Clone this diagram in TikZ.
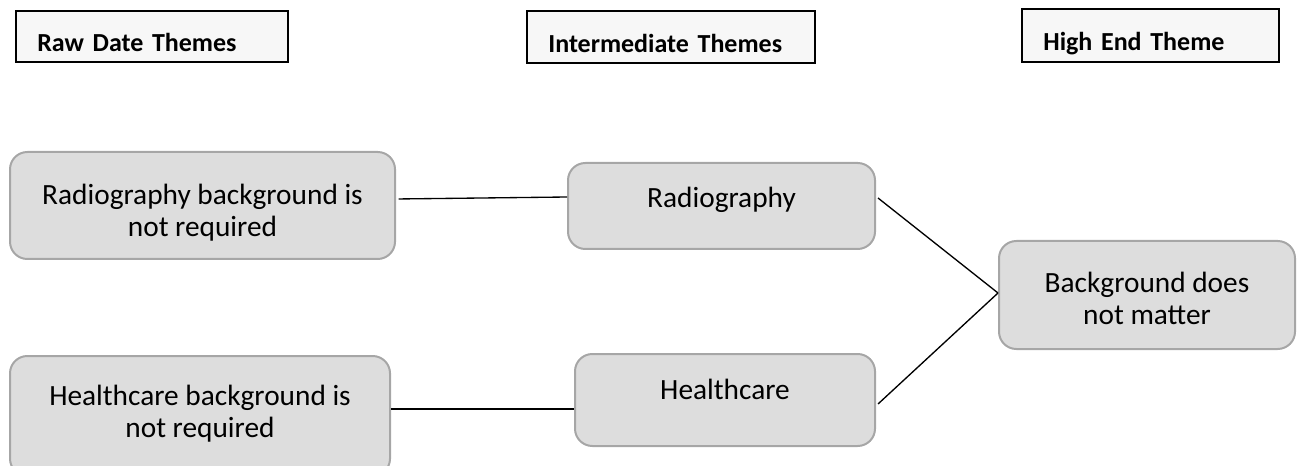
\documentclass[tikz,border=0pt]{standalone}
\usepackage{fontspec}
\setmainfont{Carlito}
\usepackage{tikz}
\definecolor{boxfill}{RGB}{221,221,221}
\definecolor{boxline}{RGB}{166,166,166}
\definecolor{headfill}{RGB}{247,247,247}
\tikzstyle{header}=[draw=black, line width=1.2pt, fill=headfill, inner xsep=16pt, inner ysep=0pt, align=left,
	text height=23pt, text depth=0pt, font=\fontsize{19.5}{23}\selectfont\bfseries]
\tikzstyle{theme}=[draw=boxline, line width=1.5pt, fill=boxfill, rounded corners=13pt, inner sep=0pt, align=center,
	font=\fontsize{22}{24}\selectfont]
\tikzstyle{link}=[draw=black, line width=1pt]

\begin{document}
\begin{tikzpicture}[x=0.75pt, y=-0.75pt]
		   \useasboundingbox (0, 0) rectangle (1298, 466);
		   % column headings
		   \node[header, minimum width=204pt, minimum height=38.25pt, text width=172pt] (raw) at (152, 36.5) {Raw Date Themes};
		   \node[header, minimum width=216pt, minimum height=39pt, text width=184pt] (mid) at (671, 37) {Intermediate Themes};
		   \node[header, minimum width=192.75pt, minimum height=39.75pt, text width=160.75pt] (high) at (1150.5, 35.5) {High End Theme};
		   % themes
		   \node[theme, minimum width=288.75pt, minimum height=80.25pt, text height=50pt, text depth=2.75pt] (rb) at (202.5, 205.5) {Radiography background is\\ not required};
		   \node[theme, minimum width=285pt, minimum height=90pt, text height=40pt, text depth=8.5pt] (hb) at (200, 416) {Healthcare background is\\ not required};
		   \node[theme, minimum width=230.25pt, minimum height=64.5pt, text height=17pt, text depth=14pt] (r) at (721.5, 206) {Radiography};
		   \node[theme, minimum width=225pt, minimum height=69pt, text height=15pt, text depth=16.5pt] (h) at (725, 400) {Healthcare};
		   \node[theme, minimum width=222pt, minimum height=81pt, text height=48pt, text depth=3pt] (bg) at (1147, 295) {Background does\\ not matter};
		   % links
		   \draw[link] ([xshift=2pt, yshift=4.9pt]rb.east) -- ([yshift=6.75pt]r.west);
		   \draw[link] ([yshift=5.25pt]hb.east) -- ([yshift=-6.75pt]h.west);
		   \draw[link] ([xshift=1.5pt, yshift=6pt]r.east) -- ([yshift=1.5pt]bg.west);
		   \draw[link] ([xshift=1.5pt, yshift=-3pt]h.east) -- ([yshift=1.5pt]bg.west);
	   \end{tikzpicture}
\end{document}
